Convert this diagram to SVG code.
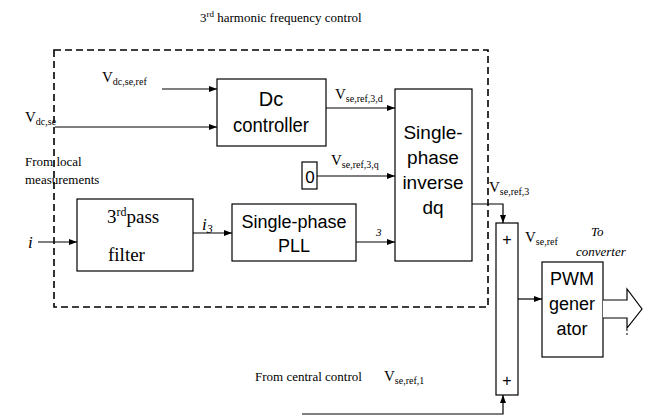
<svg xmlns="http://www.w3.org/2000/svg" width="647" height="416" viewBox="0 0 647 416">
<defs>
<marker id="ah" markerWidth="8" markerHeight="6" refX="8" refY="3" orient="auto" markerUnits="userSpaceOnUse"><path d="M0,0 L8,3 L0,6 Z" fill="#000"/></marker>
<style>
.b{fill:#fff;stroke:#000;stroke-width:1.2}
.c{fill:none;stroke:#000;stroke-width:1.2}
.s{font-family:"Liberation Serif",serif;fill:#000}
.a{font-family:"Liberation Sans",Arial,sans-serif;fill:#000;text-anchor:middle}
.sub{font-size:10px}
</style>
</defs>
<rect width="647" height="416" fill="#fff"/>
<text class="s" x="200" y="22" font-size="13">3<tspan dy="-5" font-size="9">rd</tspan><tspan dy="5"> harmonic frequency control</tspan></text>
<rect x="54" y="50" width="434" height="257" fill="none" stroke="#000" stroke-width="1.6" stroke-dasharray="7,4"/>
<g id="connectors">
<path class="c" d="M162,89 H217" marker-end="url(#ah)"/>
<path class="c" d="M55,127 H217" marker-end="url(#ah)"/>
<path class="c" d="M326,108 H395" marker-end="url(#ah)"/>
<path class="c" d="M317,176 H395" marker-end="url(#ah)"/>
<path class="c" d="M356,242 H395" marker-end="url(#ah)"/>
<path class="c" d="M193,233 H232" marker-end="url(#ah)"/>
<path class="c" d="M38,242 H77" marker-end="url(#ah)"/>
<path class="c" d="M472,204 H503 V223" marker-end="url(#ah)"/>
<path class="c" d="M518,299 H542" marker-end="url(#ah)"/>
<path class="c" d="M302,414 H503 V395" marker-end="url(#ah)"/>
</g>
<g id="dc">
<rect class="b" x="217" y="79" width="109" height="67"/>
<text class="a" x="271" y="106" font-size="20">Dc</text>
<text class="a" x="271" y="132" font-size="20" textLength="76" lengthAdjust="spacingAndGlyphs">controller</text>
</g>
<g id="invdq">
<rect class="b" x="395" y="89" width="77" height="172"/>
<text class="a" x="433" y="139" font-size="19">Single-</text>
<text class="a" x="433" y="164" font-size="19">phase</text>
<text class="a" x="433" y="189" font-size="19">inverse</text>
<text class="a" x="433" y="214" font-size="19">dq</text>
</g>
<g id="zero">
<rect class="b" x="302" y="162" width="15" height="27"/>
<text class="a" x="310" y="183" font-size="17">0</text>
</g>
<g id="pll">
<rect class="b" x="232" y="204" width="124" height="57"/>
<text class="a" x="294" y="228" font-size="18">Single-phase</text>
<text class="a" x="294" y="252" font-size="18">PLL</text>
</g>
<g id="filter">
<rect class="b" x="77" y="199" width="116" height="72"/>
<text class="s" x="107" y="223" font-size="19">3<tspan dy="-7" font-size="12">rd</tspan><tspan dy="7">pass</tspan></text>
<text class="s" x="108" y="261" font-size="19">filter</text>
</g>
<g id="sum">
<rect class="b" x="496" y="223" width="22" height="172"/>
<text class="a" x="507" y="245" font-size="16">+</text>
<text class="a" x="507" y="386" font-size="16">+</text>
</g>
<g id="pwm">
<rect class="b" x="542" y="262" width="61" height="95"/>
<text class="a" x="572" y="285" font-size="18">PWM</text>
<text class="a" x="572" y="310" font-size="18">gener</text>
<text class="a" x="572" y="335" font-size="18">ator</text>
</g>
<g id="out">
<path class="b" d="M603,300 H627 V289 L642,309 L627,328 V318 H603"/>
<path d="M627,329 V337" stroke="#000" stroke-width="1" stroke-dasharray="2,2"/>
</g>
<g id="labels">
<text class="s" x="102" y="82" font-size="15">V<tspan class="sub" dy="3">dc,se,ref</tspan></text>
<text class="s" x="25" y="122" font-size="15">V<tspan class="sub" dy="3">dc,se</tspan></text>
<text class="s" x="25" y="166" font-size="13">From local</text>
<text class="s" x="25" y="184" font-size="13">measurements</text>
<text class="s" x="335" y="99" font-size="15">V<tspan class="sub" dy="3">se,ref,3,d</tspan></text>
<text class="s" x="331" y="165" font-size="15">V<tspan class="sub" dy="3">se,ref,3,q</tspan></text>
<text class="s" x="376" y="236" font-size="11" font-style="italic">3</text>
<text class="s" x="202" y="230" font-size="17" font-style="italic">i<tspan font-size="12" dy="3">3</tspan></text>
<text class="s" x="28" y="248" font-size="17" font-style="italic">i</text>
<text class="s" x="489" y="192" font-size="15">V<tspan class="sub" dy="3">se,ref,3</tspan></text>
<text class="s" x="525" y="242" font-size="15">V<tspan class="sub" dy="3">se,ref</tspan></text>
<text class="s" x="591" y="236" font-size="13" font-style="italic">To</text>
<text class="s" x="576" y="256" font-size="13" font-style="italic">converter</text>
<text class="s" x="255" y="381" font-size="13">From central control</text>
<text class="s" x="384" y="381" font-size="15">V<tspan class="sub" dy="3">se,ref,1</tspan></text>
</g>
</svg>
